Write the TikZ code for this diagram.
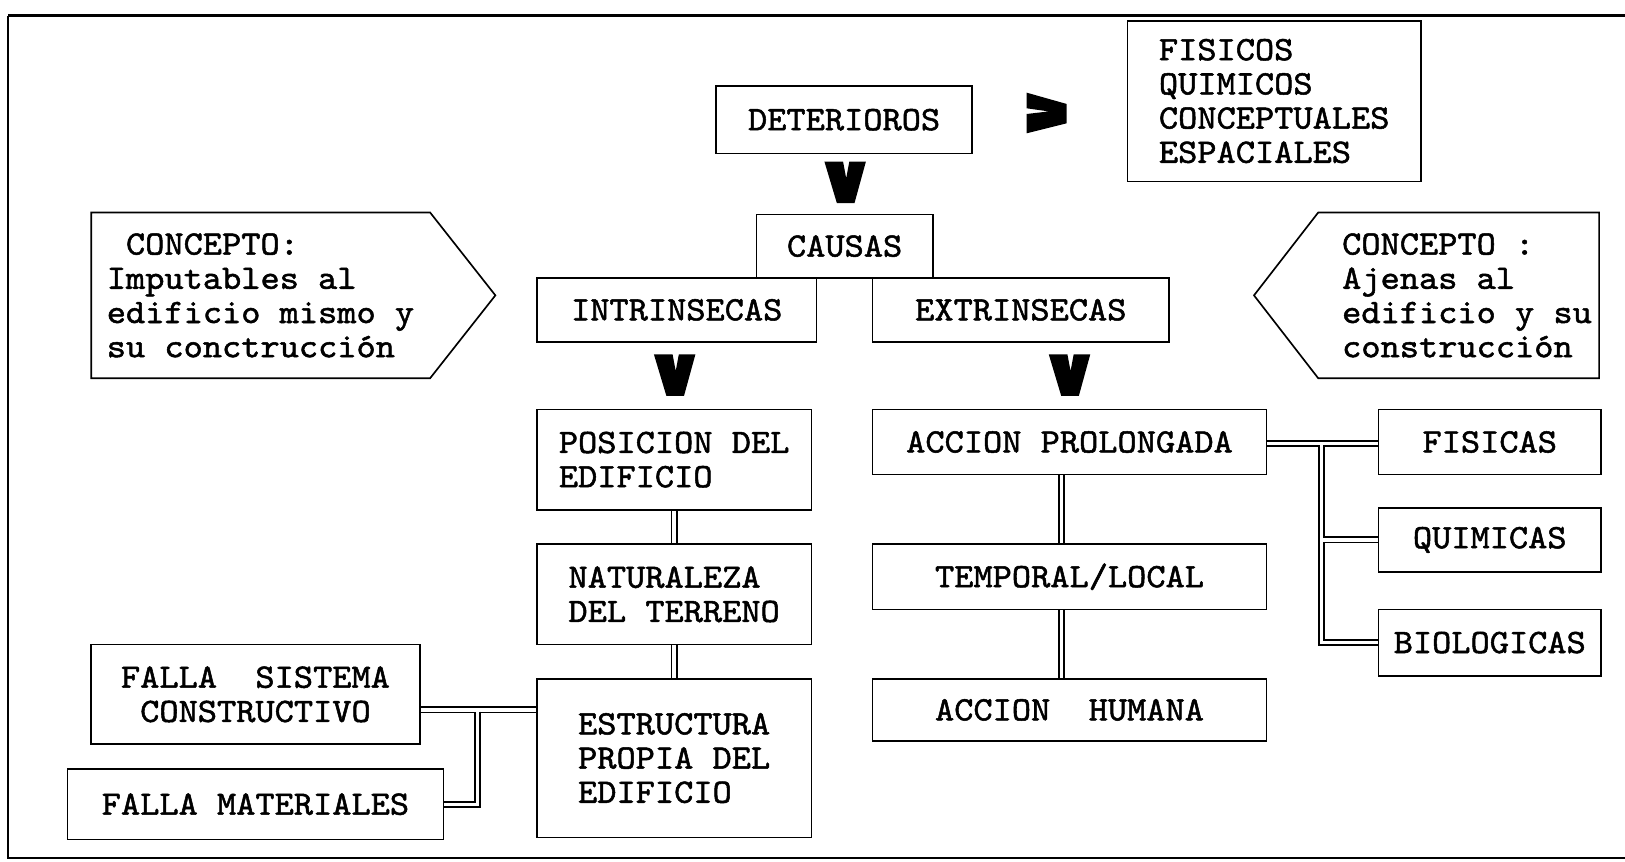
\documentclass[tikz,border=0pt]{standalone}
\usepackage{fontspec}
\setmonofont{lmmono10-regular.otf}[FakeBold=1.5,FakeStretch=1.07]
\usetikzlibrary{backgrounds,calc}
\begin{document}
\begin{tikzpicture}[x=0.5pt,y=-0.5pt,
  every node/.style={font=\ttfamily\fontsize{16.5}{16.5}\selectfont},
  caja/.style={draw,line width=0.8pt,inner sep=0pt,align=center},
  doble/.style={double,line width=0.9pt,double distance=1.6pt},
  flechav/.pic={\fill (-20,0) -- (-2,0) -- (1,16) -- (4,0) -- (20,0) -- (9,40) -- (-8,40) -- cycle;}]
\useasboundingbox (0,0) rectangle (1568,831);
\draw[line width=1.6pt] (8,15) -- (1568,15);
\draw[line width=1.1pt] (8,15) -- (8,828) -- (1568,828);

\node[caja,minimum width=123.5pt,minimum height=32.5pt] (det) at (814.5,115.5) {DETERIOROS};
\node[caja,align=left,minimum width=141.5pt,minimum height=77.5pt] (lista) at (1229.5,97.5) {FISICOS\\QUIMICOS\\CONCEPTUALES\\ESPACIALES};
\node[caja,minimum width=85pt,minimum height=30.5pt] (causas) at (815,237.5) {CAUSAS};
\node[caja,minimum width=135pt,minimum height=31pt] (intr) at (653,299) {INTRINSECAS};
\node[caja,minimum width=143pt,minimum height=31pt] (extr) at (985,299) {EXTRINSECAS};

\node[caja,align=left,minimum width=132.5pt,minimum height=48.5pt] (posicion) at (650.5,443.5) {POSICION DEL\\EDIFICIO};
\node[caja,align=left,minimum width=132.5pt,minimum height=48.5pt] (naturaleza) at (650.5,573.5) {NATURALEZA\\DEL TERRENO};
\node[caja,align=left,minimum width=132.5pt,minimum height=76.5pt] (estructura) at (650.5,731.5) {ESTRUCTURA\\PROPIA DEL\\EDIFICIO};
\node[caja,minimum width=158.5pt,minimum height=48pt] (fallasis) at (246.5,670) {FALLA\ \ SISTEMA\\CONSTRUCTIVO};
\node[caja,minimum width=181.5pt,minimum height=34pt] (fallamat) at (246.5,776) {FALLA MATERIALES};

\node[caja,minimum width=190pt,minimum height=31.5pt] (accprol) at (1032,426.5) {ACCION PROLONGADA};
\node[caja,minimum width=190pt,minimum height=31.5pt] (temporal) at (1032,556.5) {TEMPORAL/LOCAL};
\node[caja,minimum width=190pt,minimum height=30pt] (humana) at (1032,685) {ACCION\ \ HUMANA};
\node[caja,minimum width=107.5pt,minimum height=31.5pt] (fisicas) at (1437.5,426.5) {FISICAS};
\node[caja,minimum width=107.5pt,minimum height=31pt] (quimicas) at (1437.5,521) {QUIMICAS};
\node[caja,minimum width=107.5pt,minimum height=32pt] (biologicas) at (1437.5,620) {BIOLOGICAS};

\draw[line width=0.8pt] (88,205) -- (415,205) -- (478,285) -- (415,365) -- (88,365) -- cycle;
\node[anchor=west,align=left] (concizq) at (96,285) {\phantom{C}CONCEPTO:\\Imputables al\\edificio mismo y\\su conctrucción};
\draw[line width=0.8pt] (1543,205) -- (1272,205) -- (1210,285) -- (1272,365) -- (1543,365) -- cycle;
\node[anchor=west,align=left] (concder) at (1288,285) {CONCEPTO :\\Ajenas al\\edificio y su\\construcción};

\pic at (815.5,156) {flechav};
\pic at (651,342) {flechav};
\pic at (1032,342) {flechav};
\fill (990.6,89.4) -- (1029.2,100.3) -- (1029.2,119) -- (990.6,128.6) -- (990.6,110) -- (1012,107.5) -- (990.6,104.5) -- cycle;

\coordinate (rama) at (461,685);
\coordinate (tronco) at (1275,428);
\begin{scope}[on background layer]
\draw[doble] (posicion.south) -- (naturaleza.north);
\draw[doble] (naturaleza.south) -- (estructura.north);
\draw[doble] ([xshift=-4pt]accprol.south) -- ([xshift=-4pt]temporal.north);
\draw[doble] ([xshift=-4pt]temporal.south) -- ([xshift=-4pt]humana.north);
\draw[doble] (fallasis.east |- rama) -- (estructura.west |- rama);
\draw[doble] ([yshift=-0.8pt]rama) |- (fallamat.east);
\draw[doble] (accprol.east |- tronco) -- (fisicas.west |- tronco);
\draw[doble] ([yshift=-0.8pt]tronco) |- (biologicas.west);
\draw[doble] ($(tronco |- quimicas.west)+(0.8pt,0)$) -- (quimicas.west);
\end{scope}
\end{tikzpicture}
\end{document}
